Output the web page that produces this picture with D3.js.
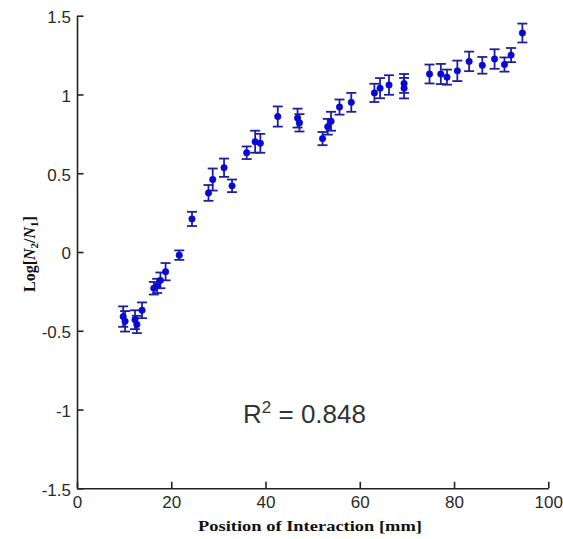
<!DOCTYPE html>
<html>
<head>
<meta charset="utf-8">
<script src="https://cdn.jsdelivr.net/npm/d3@7/dist/d3.min.js"></script>
<style>
  html, body { margin: 0; padding: 0; background: #ffffff; }
  svg { display: block; }
</style>
</head>
<body>
<script>
// ---- data ----
const positions = [9.8, 10.2, 12.3, 12.7, 13.8, 16.3, 17.0, 17.7, 18.8, 21.7, 24.4, 27.9, 28.8, 31.2, 32.9, 36.0, 37.8, 38.9, 42.6, 46.8, 47.2, 52.1, 53.2, 53.9, 55.7, 58.2, 63.1, 64.3, 66.2, 69.4, 69.4, 74.8, 77.2, 78.5, 80.7, 83.2, 86.0, 88.6, 90.7, 92.1, 94.5];
const logRatio  = [-0.41, -0.44, -0.43, -0.46, -0.37, -0.23, -0.215, -0.18, -0.125, -0.02, 0.21, 0.375, 0.46, 0.535, 0.42, 0.63, 0.70, 0.69, 0.86, 0.85, 0.82, 0.72, 0.795, 0.83, 0.92, 0.95, 1.01, 1.04, 1.06, 1.04, 1.07, 1.13, 1.13, 1.11, 1.15, 1.21, 1.185, 1.225, 1.19, 1.25, 1.39];
const errors    = [0.065, 0.065, 0.06, 0.055, 0.05, 0.04, 0.045, 0.05, 0.055, 0.03, 0.045, 0.05, 0.07, 0.058, 0.04, 0.04, 0.07, 0.06, 0.064, 0.06, 0.055, 0.042, 0.05, 0.06, 0.048, 0.06, 0.058, 0.064, 0.062, 0.065, 0.06, 0.06, 0.064, 0.048, 0.065, 0.062, 0.053, 0.062, 0.045, 0.045, 0.06];
const xTicks = [0, 20, 40, 60, 80, 100];
const yTicks = [-1.5, -1, -0.5, 0, 0.5, 1, 1.5];
const yTickLabels = ["-1.5", "-1", "-0.5", "0", "0.5", "1", "1.5"];
const rSquared = "0.848";

const W = 563, H = 539;
const mLeft = 77, mRight = 548.3, mTop = 15.7, mBottom = 488.3;

const svg = d3.select("body").append("svg").attr("width", W).attr("height", H);

const x = d3.scaleLinear().domain([0, 100]).range([mLeft, mRight]);
const y = d3.scaleLinear().domain([-1.5, 1.5]).range([mBottom, mTop]);

const axisColor = "#222";
const tickFont = "'Liberation Sans', Arial, sans-serif";

// X axis (ticks inward = upward)
const xAxis = d3.axisBottom(x).tickValues(xTicks).tickSizeInner(-6.5).tickSizeOuter(0).tickPadding(15);
const gx = svg.append("g").attr("transform", `translate(0,${mBottom})`).call(xAxis);
gx.select(".domain").attr("stroke", axisColor).attr("stroke-width", 1.6);
gx.selectAll(".tick line").attr("stroke", axisColor).attr("stroke-width", 1.6);
gx.selectAll(".tick text").attr("fill", "#2a2a2a").style("font-family", tickFont).style("font-size", "17px")
  .attr("dy", "0.71em").attr("y", 8);

// Y axis (ticks inward = rightward)
const yAxis = d3.axisLeft(y).tickValues(yTicks).tickFormat((d, i) => yTickLabels[i]).tickSizeInner(-6.5).tickSizeOuter(0).tickPadding(13);
const gy = svg.append("g").attr("transform", `translate(${mLeft},0)`).call(yAxis);
gy.select(".domain").attr("stroke", axisColor).attr("stroke-width", 1.6);
gy.selectAll(".tick line").attr("stroke", axisColor).attr("stroke-width", 1.6);
gy.selectAll(".tick text").attr("fill", "#2a2a2a").style("font-family", tickFont).style("font-size", "17px")
  .attr("x", -6).attr("dy", "0.4em");

// Data: error bars + markers
const data = positions.map((p, i) => ({ p, v: logRatio[i], e: errors[i] }));
const barColor = "#1f1f9e";
const capHalf = 5;
const g = svg.append("g");
const eb = g.selectAll("g.eb").data(data).join("g").attr("class", "eb");
eb.append("line")
  .attr("x1", d => x(d.p)).attr("x2", d => x(d.p))
  .attr("y1", d => y(d.v - d.e)).attr("y2", d => y(d.v + d.e))
  .attr("stroke", barColor).attr("stroke-width", 1.8);
eb.append("line")
  .attr("x1", d => x(d.p) - capHalf).attr("x2", d => x(d.p) + capHalf)
  .attr("y1", d => y(d.v + d.e)).attr("y2", d => y(d.v + d.e))
  .attr("stroke", barColor).attr("stroke-width", 1.8);
eb.append("line")
  .attr("x1", d => x(d.p) - capHalf).attr("x2", d => x(d.p) + capHalf)
  .attr("y1", d => y(d.v - d.e)).attr("y2", d => y(d.v - d.e))
  .attr("stroke", barColor).attr("stroke-width", 1.8);
g.selectAll("circle").data(data).join("circle")
  .attr("cx", d => x(d.p)).attr("cy", d => y(d.v)).attr("r", 3.2)
  .attr("fill", "#0606e0").attr("stroke", "#1010b0").attr("stroke-width", 0.7);

// R^2 annotation
const rt = svg.append("text").attr("x", 243).attr("y", 422.7)
  .attr("fill", "#333").style("font-family", tickFont).style("font-size", "26px");
rt.append("tspan").text("R");
rt.append("tspan").attr("dy", -10).style("font-size", "17px").text("2");
rt.append("tspan").attr("dy", 10).text(" = " + rSquared);

// X axis label
svg.append("text").attr("x", 310).attr("y", 531).attr("text-anchor", "middle")
  .attr("fill", "#111").style("font-family", "'Liberation Serif', 'DejaVu Serif', serif")
  .style("font-size", "15px").style("font-weight", "bold")
  .attr("textLength", 224).attr("lengthAdjust", "spacingAndGlyphs")
  .text("Position of Interaction [mm]");

// Y axis label
const yl = svg.append("text").attr("transform", `translate(35,254) rotate(-90)`).attr("text-anchor", "middle")
  .attr("fill", "#111").style("font-family", "'Liberation Serif', 'DejaVu Serif', serif")
  .style("font-size", "16px").style("font-weight", "bold");
yl.append("tspan").text("Log[");
yl.append("tspan").style("font-style", "italic").text("N");
yl.append("tspan").attr("dy", 3).style("font-size", "11px").text("2");
yl.append("tspan").attr("dy", -3).text("/");
yl.append("tspan").style("font-style", "italic").text("N");
yl.append("tspan").attr("dy", 3).style("font-size", "11px").text("1");
yl.append("tspan").attr("dy", -3).text("]");
</script>
</body>
</html>
